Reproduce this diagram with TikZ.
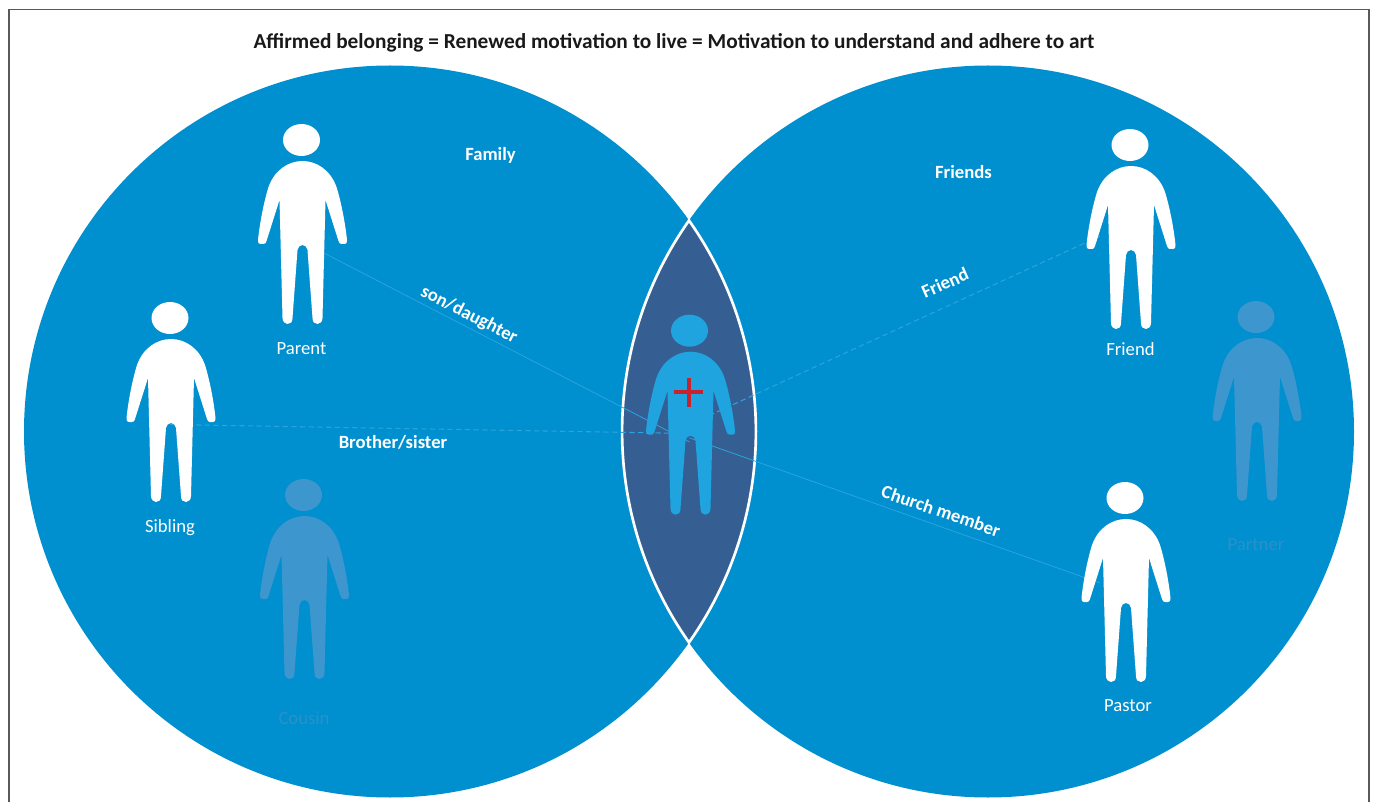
\documentclass[tikz,border=0pt]{standalone}
\usepackage{fontspec}
\setmainfont{Carlito}
\usepackage{xcolor}
\definecolor{discblue}{HTML}{008FCF}
\definecolor{lensblue}{HTML}{355F93}
\definecolor{selfblue}{HTML}{1FA4DF}
\definecolor{tieblue}{HTML}{2BA4DE}
\definecolor{ghostblue}{HTML}{3D96CE}
\definecolor{ghosttext}{HTML}{2C90CA}
\definecolor{crossred}{HTML}{C8232C}
\tikzset{
  person/.pic={
    \path[pic actions] (-1,0) ellipse [x radius=18.5,y radius=16];
    \path[pic actions] (0,21) .. controls (14,21) and (28,30) .. (34,47)
      .. controls (39,63) and (43,85) .. (44.5,100) .. controls (44.5,103) and (44,104) .. (42,104)
      -- (39,104) .. controls (37,104) and (37,103) .. (36,101) -- (23,60)
      -- (20,178) .. controls (20,182) and (17,184) .. (15,184)
      .. controls (12,184) and (10,182) .. (10,178) -- (5,110)
      .. controls (5,107) and (2,105) .. (0,105) .. controls (-2,105) and (-5,107) .. (-5,110)
      -- (-10,178) .. controls (-10,182) and (-12,184) .. (-15,184)
      .. controls (-17,184) and (-20,182) .. (-20,178) -- (-23,60)
      -- (-36,101) .. controls (-37,103) and (-37,104) .. (-39,104) -- (-42,104)
      .. controls (-44,104) and (-44.5,103) .. (-44.5,100)
      .. controls (-43,85) and (-39,63) .. (-34,47) .. controls (-28,30) and (-14,21) .. (0,21) -- cycle;
  },
  whitefig/.style={fill=white,transform shape},
  ghostfig/.style={fill=ghostblue,transform shape},
  selffig/.style={fill=selfblue,transform shape},
  tie/.style={tieblue,line width=0.6pt},
  dashtie/.style={tie,line width=0.8pt,dash pattern=on 4pt off 2.5pt},
  namelabel/.style={text=white,font=\fontsize{14}{16}\selectfont,inner sep=0.75pt},
  ghostlabel/.style={namelabel,text=ghosttext},
  tielabel/.style={text=white,font=\fontsize{14}{16}\selectfont\bfseries,inner sep=0.75pt},
}
\begin{document}
\begin{tikzpicture}[x=0.75pt,y=0.75pt,yscale=-1,xscale=1]
\useasboundingbox (0,0) rectangle (1375,802);
%discs
\fill[discblue] (390,431.5) circle [radius=366];
\fill[discblue] (988,431.5) circle [radius=366];
%overlap
\draw[fill=lensblue,draw=white,line width=2pt] (689,220.5) arc [start angle=-35.2,end angle=35.2,radius=366]
  arc [start angle=144.8,end angle=215.2,radius=366] -- cycle;
%frame
\draw[black!65,line width=1pt] (9,820) -- (9,9.5) -- (1369,9.5) -- (1369,820);
%ends of the ties
\coordinate (parentend) at (301.5,241.4);
\coordinate (siblingend) at (170,424.5);
\coordinate (friendend) at (1100,236);
\coordinate (pastorend) at (1100,583);
\coordinate (selfendA) at (689.5,442);
\coordinate (selfendB) at (689.5,433.5);
\coordinate (selfendC) at (689.5,424.6);
\coordinate (selfendD) at (689.5,437.9);
%ties
\draw[tie] (parentend) -- (selfendA);
\draw[tie] (selfendD) -- (pastorend);
\draw[dashtie] (siblingend) -- (selfendB);
\draw[dashtie] (friendend) -- (selfendC);
%figures
\pic[whitefig] at (302.5,140) {person};
\pic[whitefig] at (171,318) {person};
\pic[ghostfig] at (304.5,495) {person};
\pic[selffig] at (690.5,330.7) {person};
\pic[whitefig] at (1131,145) {person};
\pic[ghostfig] at (1257,317) {person};
\pic[whitefig] at (1126,498) {person};
%cross
\draw[crossred,line width=3pt] (689,377.7) -- (689,406.7);
\draw[crossred,line width=3pt] (674,391.7) -- (703,391.7);
%labels
\node[font=\fontsize{16}{18}\selectfont\bfseries,text=black!90,inner sep=0.75pt] (title) at (674,43) {Affirmed belonging = Renewed motivation to live = Motivation to understand and adhere to art};
\node[tielabel] (family) at (490.5,155) {Family};
\node[tielabel] (friends) at (963.5,172) {Friends};
\node[namelabel] (parent) at (301.5,349) {Parent};
\node[namelabel] (sibling) at (170,528) {Sibling};
\node[ghostlabel] (cousin) at (304,718) {Cousin};
\node[namelabel] (friend) at (1130.5,349) {Friend};
\node[ghostlabel] (partner) at (1256,545) {Partner};
\node[namelabel] (pastor) at (1128,706) {Pastor};
\node[tielabel,rotate=-27] (sondaughter) at (469,315) {son/daughter};
\node[tielabel] (brothersister) at (393,442) {Brother/sister};
\node[tielabel,rotate=24] (friendtie) at (945,283) {Friend};
\node[tielabel,rotate=-19] (churchmember) at (941,511) {Church member};
\end{tikzpicture}
\end{document}
